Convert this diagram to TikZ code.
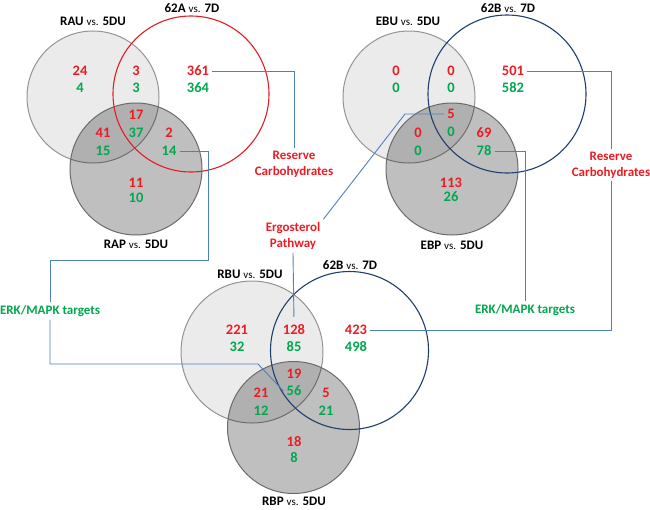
\documentclass[tikz,border=0pt]{standalone}
\usepackage{fontspec}
\setmainfont{Carlito}
\definecolor{numred}{RGB}{236,28,36}
\definecolor{numgreen}{RGB}{0,168,80}
\definecolor{linkblue}{RGB}{79,129,189}
\definecolor{ringred}{RGB}{226,30,36}
\definecolor{ringnavy}{RGB}{31,64,110}
\newcommand{\vslab}[2]{\textbf{#1} {\fontsize{11}{13}\selectfont vs.} \textbf{#2}}
\tikzset{
  rnum/.style={text=numred,font=\bfseries\fontsize{14.5}{17}\selectfont,inner sep=3pt},
  gnum/.style={text=numgreen,font=\bfseries\fontsize{14.5}{17}\selectfont,inner sep=3pt},
  setlab/.style={font=\fontsize{13}{15}\selectfont,inner sep=1pt},
  pathlab/.style={font=\bfseries\fontsize{13}{16}\selectfont,align=center,inner sep=3pt},
  uset/.style={draw=black!42,line width=1pt,fill=black,fill opacity=0.08},
  pset/.style={draw=black!58,line width=1pt,fill=black,fill opacity=0.25},
  link/.style={draw=linkblue,line width=0.9pt}
}
\begin{document}
\begin{tikzpicture}[x=1pt,y=-1pt]
			\useasboundingbox (0,0) rectangle (650,509);
			\fill [white] (0,0) rectangle (650,509);
			% RAU / 62A / RAP
			\draw [uset] (93,97) circle (66pt);
			\draw [pset] (136,169) circle (66pt);
			\draw [ringred,line width=1.1pt] (191,94) circle (78pt);
			% EBU / 62B / EBP
			\draw [uset] (409,97) circle (66pt);
			\draw [pset] (452,169) circle (66pt);
			\draw [ringnavy,line width=1.1pt] (507,94) circle (79pt);
			% RBU / 62B / RBP
			\draw [uset] (252,352) circle (71pt);
			\draw [pset] (293.5,427.5) circle (66pt);
			\draw [ringnavy,line width=1.1pt] (349.5,350.5) circle (79pt);
			% set labels
			\node [setlab] (labRAU) at (93,21) {\vslab{RAU}{5DU}};
			\node [setlab] (labA7) at (192,8) {\vslab{62A}{7D}};
			\node [setlab] (labRAP) at (136,244) {\vslab{RAP}{5DU}};
			\node [setlab] (labEBU) at (408,21) {\vslab{EBU}{5DU}};
			\node [setlab] (labB7) at (508,8) {\vslab{62B}{7D}};
			\node [setlab] (labEBP) at (452,245) {\vslab{EBP}{5DU}};
			\node [setlab] (labRBU) at (250,274) {\vslab{RBU}{5DU}};
			\node [setlab] (labC7) at (350,265) {\vslab{62B}{7D}};
			\node [setlab] (labRBP) at (294,501) {\vslab{RBP}{5DU}};
			% counts, top left
			\node [rnum] (Aur) at (80,71) {24};
			\node [gnum] (Aug) at (80,88) {4};
			\node [rnum] (Axr) at (136,71) {3};
			\node [gnum] (Axg) at (136,88) {3};
			\node [rnum] (Asr) at (198,71) {361};
			\node [gnum] (Asg) at (198,88) {364};
			\node [rnum] (Amr) at (136,115) {17};
			\node [gnum] (Amg) at (136,133) {37};
			\node [rnum] (Aqr) at (103,133) {41};
			\node [gnum] (Aqg) at (103,151) {15};
			\node [rnum] (Ayr) at (169,133) {2};
			\node [gnum] (Ayg) at (169,151) {14};
			\node [rnum] (Apr) at (136,183) {11};
			\node [gnum] (Apg) at (136,198) {10};
			% counts, top right
			\node [rnum] (Bur) at (396,71) {0};
			\node [gnum] (Bug) at (396,88) {0};
			\node [rnum] (Bxr) at (451,71) {0};
			\node [gnum] (Bxg) at (451,88) {0};
			\node [rnum] (Bsr) at (513,71) {501};
			\node [gnum] (Bsg) at (513,88) {582};
			\node [rnum] (Bmr) at (451,114) {5};
			\node [gnum] (Bmg) at (451,132) {0};
			\node [rnum] (Bqr) at (418,133) {0};
			\node [gnum] (Bqg) at (418,151) {0};
			\node [rnum] (Byr) at (484,133) {69};
			\node [gnum] (Byg) at (484,151) {78};
			\node [rnum] (Bpr) at (451,183) {113};
			\node [gnum] (Bpg) at (451,197) {26};
			% counts, bottom
			\node [rnum] (Cur) at (237,330) {221};
			\node [gnum] (Cug) at (237,347) {32};
			\node [rnum] (Cxr) at (294,330) {128};
			\node [gnum] (Cxg) at (294,347) {85};
			\node [rnum] (Csr) at (356,330) {423};
			\node [gnum] (Csg) at (356,347) {498};
			\node [rnum] (Cmr) at (294,374) {19};
			\node [gnum] (Cmg) at (294,391) {56};
			\node [rnum] (Cqr) at (261,393) {21};
			\node [gnum] (Cqg) at (261,411) {12};
			\node [rnum] (Cyr) at (326,393) {5};
			\node [gnum] (Cyg) at (326,411) {21};
			\node [rnum] (Cpr) at (294,442) {18};
			\node [gnum] (Cpg) at (294,458) {8};
			% pathway labels
			\node [pathlab,text=numred] (rcA) at (294,164) {Reserve\\Carbohydrates};
			\node [pathlab,text=numred] (rcB) at (611,165) {Reserve\\Carbohydrates};
			\node [pathlab,text=numred] (ergo) at (293,236) {Ergosterol\\Pathway};
			\node [pathlab,text=numgreen] (erkA) at (50,311) {ERK/MAPK targets};
			\node [pathlab,text=numgreen] (erkB) at (525,310) {ERK/MAPK targets};
			% connectors
			\coordinate (kA) at (208,260);
			\coordinate (kB) at (405,114);
			\coordinate (kC) at (258,364);
			\draw [link] (Asr.east) -| (rcA.north);
			\draw [link] (Bsr.east) -| (rcB.north);
			\draw [link] (rcB.south) |- (Csr.east);
			\draw [link] (Ayg.east) -| (kA) -| (erkA.north);
			\draw [link] (erkA.south) |- (kC) -- (Cmg.west);
			\draw [link] (Byg.east) -| (erkB.north);
			\draw [link] (Bmr.west) -- (kB) -- (ergo.north east);
			\draw [link,shorten >=5pt] (ergo.south) -- (Cxr.north);
\end{tikzpicture}
\end{document}
